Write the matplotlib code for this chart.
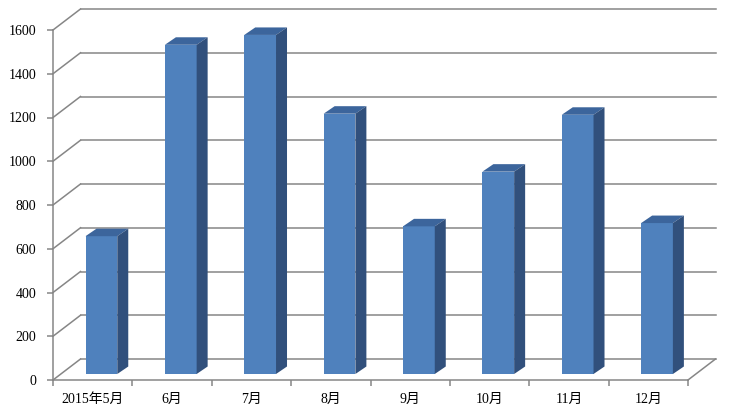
import matplotlib
matplotlib.use('Agg')
import matplotlib.pyplot as plt
from matplotlib.patches import Polygon
import numpy as np

# data
months = ['2015年5月', '6月', '7月', '8月', '9月', '10月', '11月', '12月']
values = [630, 1505, 1550, 1190, 675, 925, 1185, 690]
yticks = [0, 200, 400, 600, 800, 1000, 1200, 1400, 1600]

grid_c = '#868686'
front_c = '#4F81BD'
top_c = '#3C659C'
side_c = '#31507C'

fig = plt.figure(figsize=(7.35, 4.09), dpi=100)
ax = fig.add_axes([53/735, 29/409, 635/735, 350/409])
ax.set_xlim(0, len(months))
ax.set_ylim(0, 1600)

# depth of the back wall, in data units (27.5px across, 21px up)
wall_dx = 27.5 / (635 / 8)
wall_dy = 21 / (350 / 1600)
# where the bars stand and how deep they are
bar_dx = 8.7 / (635 / 8)
bar_dy = 6 / (350 / 1600)
depth_dx = 11 / (635 / 8)
depth_dy = 7.5 / (350 / 1600)
w = 0.4

# back wall gridlines + side wall diagonals
for v in yticks:
    ax.plot([wall_dx, len(months) + wall_dx], [v + wall_dy, v + wall_dy],
            color=grid_c, lw=1.1, clip_on=False, zorder=1)
    ax.plot([0, wall_dx], [v, v + wall_dy], color=grid_c, lw=1.1,
            clip_on=False, zorder=1)
ax.plot([len(months), len(months) + wall_dx], [0, wall_dy], color=grid_c,
        lw=1.1, clip_on=False, zorder=1)

# bars
x = np.arange(len(months)) + 0.5
ax.bar(x + bar_dx, values, width=w, bottom=bar_dy, color=front_c,
       zorder=3, clip_on=False)
for xi, v in zip(x, values):
    xl = xi + bar_dx - w / 2
    xr = xi + bar_dx + w / 2
    t = v + bar_dy
    b = bar_dy
    ax.add_patch(Polygon([(xl, t), (xr, t), (xr + depth_dx, t + depth_dy),
                          (xl + depth_dx, t + depth_dy)],
                         closed=True, fc=top_c, ec='none', zorder=3,
                         clip_on=False))
    ax.add_patch(Polygon([(xr, b), (xr, t), (xr + depth_dx, t + depth_dy),
                          (xr + depth_dx, b + depth_dy)],
                         closed=True, fc=side_c, ec='none', zorder=3,
                         clip_on=False))

# axes
for s in ['top', 'right']:
    ax.spines[s].set_visible(False)
for s in ['left', 'bottom']:
    ax.spines[s].set_color(grid_c)
    ax.spines[s].set_linewidth(1.1)
    ax.spines[s].set_zorder(2)

ax.set_yticks(yticks)
ax.set_yticklabels([str(v) for v in yticks])
ax.set_xticks(np.arange(len(months) + 1))
ax.set_xticklabels([])
ax.set_xticks(x, minor=True)
ax.set_xticklabels(months, minor=True)
ax.tick_params(axis='y', direction='out', length=4, width=1.1, color=grid_c,
               pad=8, labelsize=10)
ax.tick_params(axis='x', which='major', direction='out', length=4, width=1.1,
               color=grid_c)
ax.tick_params(axis='x', which='minor', length=0, pad=9, labelsize=10)
fam = ['Liberation Serif', 'Noto Sans CJK JP']
for lab in ax.get_yticklabels() + ax.get_xticklabels(minor=True):
    lab.set_family(fam)

fig.savefig('out.png', dpi=100)
